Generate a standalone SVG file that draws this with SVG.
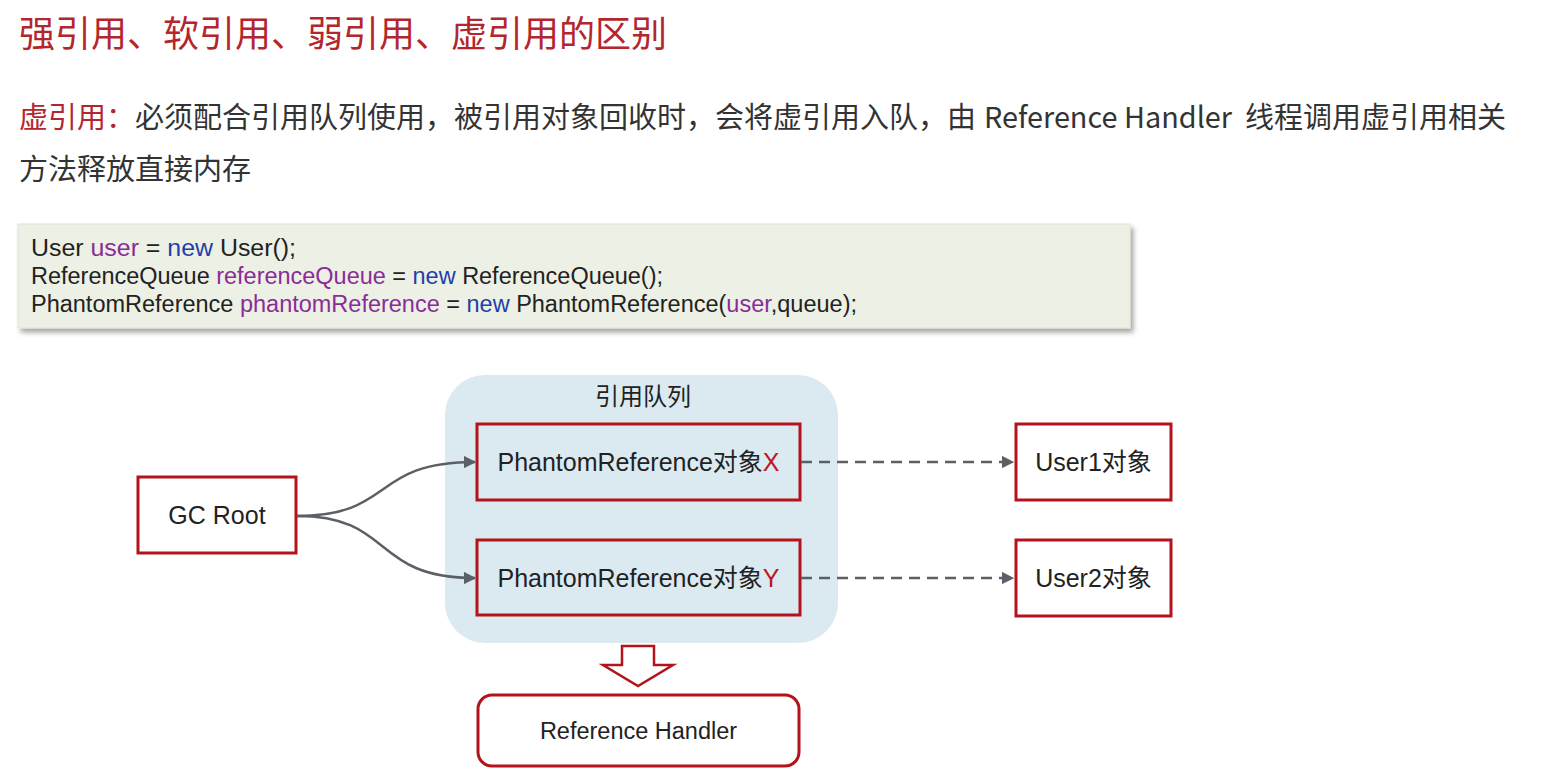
<svg xmlns="http://www.w3.org/2000/svg" width="1559" height="774" viewBox="0 0 1559 774">
<defs>
<style>
.cjk{font-family:"Noto Sans CJK SC","Liberation Sans",sans-serif}
.title{font-size:36px;fill:#b3262d}
.body{font-size:29px;fill:#333}
.red{fill:#b3262d}
.code{font-family:"Liberation Sans",Arial,sans-serif;font-size:23px;fill:#222}
.kw{fill:#1f3faa}
.var{fill:#8a2c98}
.lbl{font-family:"Liberation Sans","Noto Sans CJK SC",sans-serif;font-size:25px;fill:#222}
.lbl-sm{font-size:23.5px}
.box{fill:#fff;stroke:#b3141b;stroke-width:3}
.qbox{fill:none;stroke:#b3141b;stroke-width:3}
.conn{fill:none;stroke:#5b6066;stroke-width:2.5}
.dash{fill:none;stroke:#5b6066;stroke-width:2.5;stroke-dasharray:11 7}
.xy{fill:#c0141c}
</style>
<marker id="ah" viewBox="0 0 10 10" refX="9" refY="5" markerWidth="5" markerHeight="5" orient="auto" markerUnits="strokeWidth">
<path d="M0,0 L10,5 L0,10 z" fill="#5b6066"/>
</marker>
<filter id="sh" x="-2%" y="-10%" width="104%" height="130%">
<feDropShadow dx="3" dy="4" stdDeviation="2.5" flood-color="#000" flood-opacity="0.35"/>
</filter>
</defs>
<rect width="1559" height="774" fill="#fff"/>

<g id="title">
<text class="cjk title" x="19" y="47">强引用、软引用、弱引用、虚引用的区别</text>
</g>

<g id="desc">
<text class="cjk body" x="19" y="128"><tspan class="red">虚引用：</tspan>必须配合引用队列使用，被引用对象回收时，会将虚引用入队，由</text>
<text class="cjk body" x="984" y="128" textLength="248" lengthAdjust="spacingAndGlyphs">Reference Handler</text>
<text class="cjk body" x="1245" y="128">线程调用虚引用相关</text>
<text class="cjk body" x="19" y="180">方法释放直接内存</text>
</g>

<g id="code">
<rect x="18" y="224" width="1112" height="104" fill="#edf0e4" stroke="#dfe3d3" stroke-width="1" filter="url(#sh)"/>
<text class="code" x="31" y="256" textLength="265" lengthAdjust="spacingAndGlyphs">User <tspan class="var">user</tspan> = <tspan class="kw">new</tspan> User();</text>
<text class="code" x="31" y="284" textLength="632" lengthAdjust="spacingAndGlyphs">ReferenceQueue <tspan class="var">referenceQueue</tspan> = <tspan class="kw">new</tspan> ReferenceQueue();</text>
<text class="code" x="31" y="312" textLength="826" lengthAdjust="spacingAndGlyphs">PhantomReference <tspan class="var">phantomReference</tspan> = <tspan class="kw">new</tspan> PhantomReference(<tspan class="var">user</tspan>,queue);</text>
</g>

<g id="queue">
<rect x="445" y="375" width="393" height="268" rx="40" ry="40" fill="#dbeaf1"/>
<text class="cjk" x="643" y="405" text-anchor="middle" font-size="24" fill="#222">引用队列</text>
</g>

<g id="phantomX">
<rect class="qbox" x="477" y="424" width="323" height="76"/>
<text class="lbl" x="638.5" y="471" text-anchor="middle">PhantomReference对象<tspan class="xy">X</tspan></text>
</g>

<g id="phantomY">
<rect class="qbox" x="477" y="540" width="323" height="75"/>
<text class="lbl" x="638.5" y="587" text-anchor="middle">PhantomReference对象<tspan class="xy">Y</tspan></text>
</g>

<g id="gcroot">
<rect class="box" x="138" y="477" width="158" height="76"/>
<text class="lbl" x="217" y="524" text-anchor="middle">GC Root</text>
</g>

<g id="user1">
<rect class="box" x="1016" y="424" width="155" height="76"/>
<text class="lbl" x="1093.5" y="471" text-anchor="middle">User1对象</text>
</g>

<g id="user2">
<rect class="box" x="1016" y="540" width="155" height="76"/>
<text class="lbl" x="1093.5" y="587" text-anchor="middle">User2对象</text>
</g>

<g id="refhandler">
<rect class="box" x="478" y="695" width="321" height="71" rx="14" ry="14"/>
<text class="lbl lbl-sm" x="638.5" y="739" text-anchor="middle">Reference Handler</text>
</g>

<g id="connectors">
<path class="conn" d="M297,516 C395,516 370,462 475,462" marker-end="url(#ah)"/>
<path class="conn" d="M297,516 C395,516 370,578 475,578" marker-end="url(#ah)"/>
<path class="dash" d="M801,462 L1013,462" marker-end="url(#ah)"/>
<path class="dash" d="M801,578 L1013,578" marker-end="url(#ah)"/>
<path d="M622,646 L654,646 L654,665 L673,665 L638,686 L603,665 L622,665 Z" fill="#fff" stroke="#b3141b" stroke-width="2.5" stroke-linejoin="miter"/>
</g>
</svg>
